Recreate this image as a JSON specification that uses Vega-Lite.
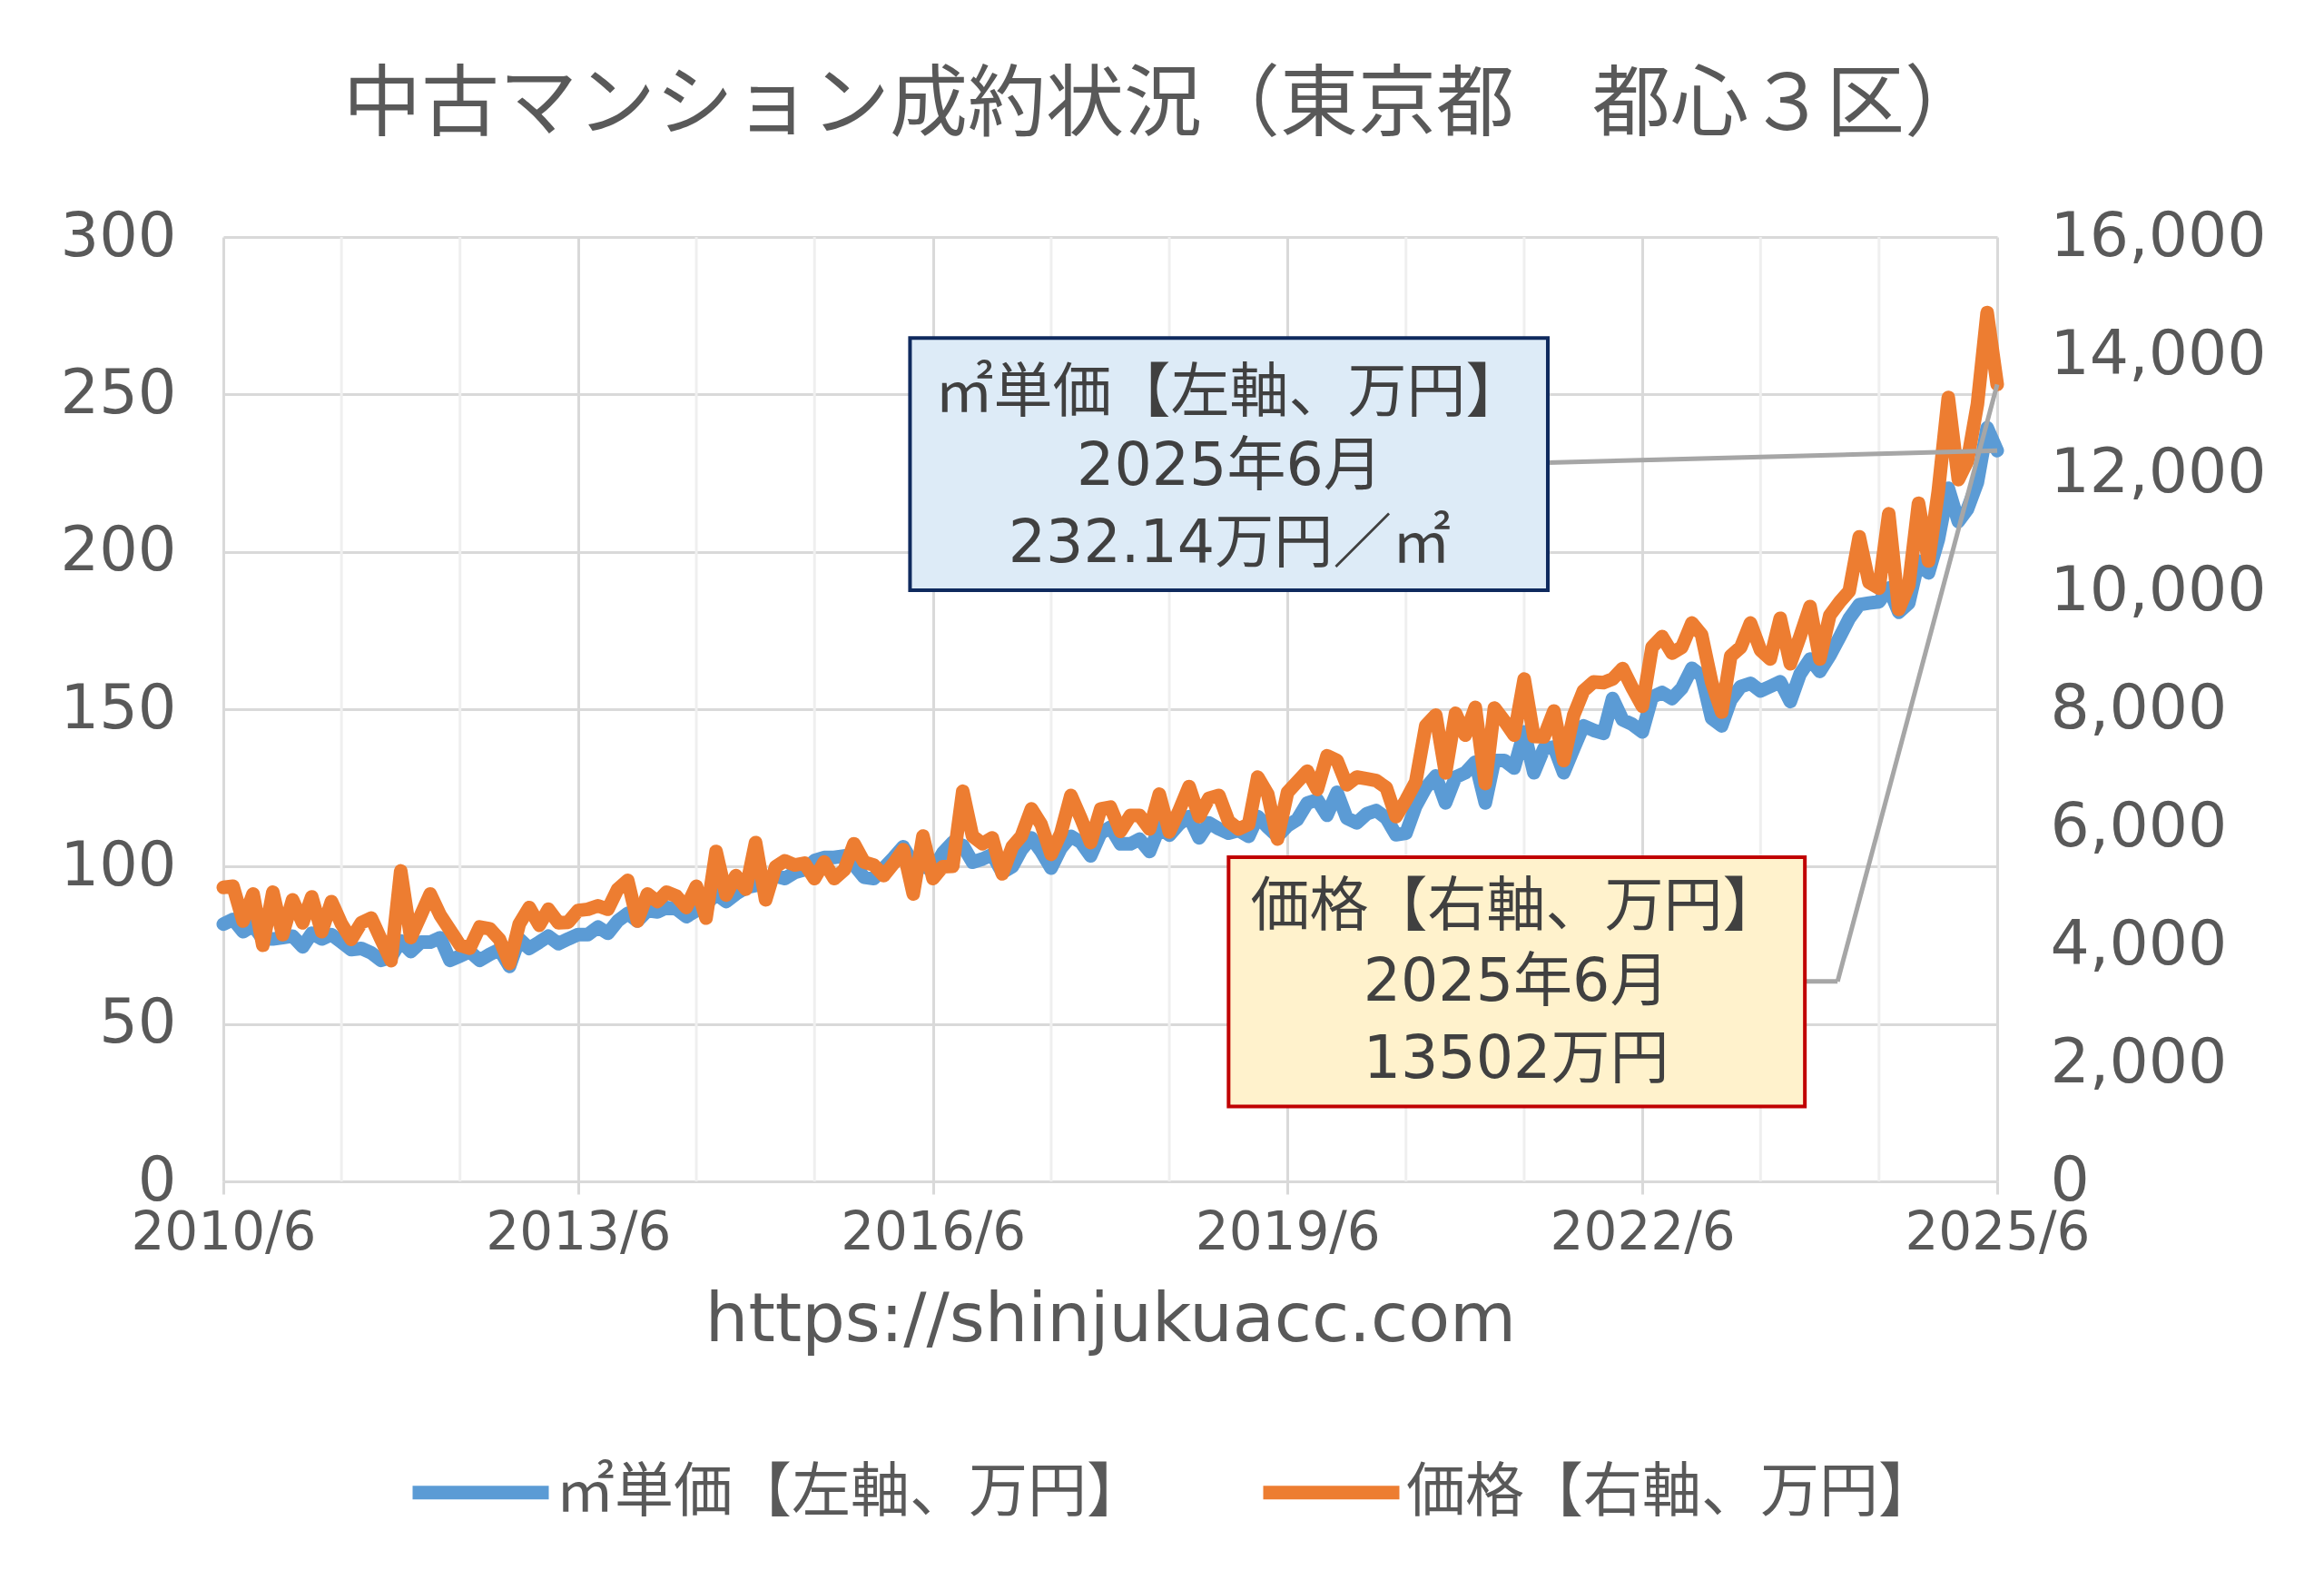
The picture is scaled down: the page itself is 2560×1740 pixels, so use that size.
{
  "$schema": "https://vega.github.io/schema/vega-lite/v6.json",
  "autosize": {"type": "none"},
  "width": 1954,
  "height": 1040,
  "padding": {"left": 246, "top": 261, "right": 360, "bottom": 439},
  "background": "white",
  "title": {
    "text": "中古マンション成約状況（東京都　都心３区）",
    "font": "Noto Sans CJK JP",
    "fontSize": 86,
    "fontWeight": "normal",
    "color": "#595959",
    "anchor": "middle",
    "frame": "bounds",
    "offset": 66
  },
  "config": {
    "view": {"stroke": null},
    "axis": {"labelFont": "DejaVu Sans", "labelColor": "#595959", "labelLimit": 0}
  },
  "resolve": {"scale": {"y": "independent"}, "axis": {"y": "independent"}},
  "encoding": {
    "x": {
      "field": "date",
      "type": "temporal",
      "scale": {"domain": [{"year": 2010, "month": 6, "date": 1}, {"year": 2025, "month": 6, "date": 1}]},
      "axis": {
        "values": [
          {"year": 2010, "month": 6, "date": 1},
          {"year": 2013, "month": 6, "date": 1},
          {"year": 2016, "month": 6, "date": 1},
          {"year": 2019, "month": 6, "date": 1},
          {"year": 2022, "month": 6, "date": 1},
          {"year": 2025, "month": 6, "date": 1}
        ],
        "format": "%Y/%-m",
        "labelFontSize": 58,
        "labelPadding": 14,
        "labelFlush": false,
        "labelOverlap": false,
        "labelLimit": 0,
        "domain": false,
        "grid": true,
        "gridColor": "#d9d9d9",
        "gridWidth": 3,
        "ticks": true,
        "tickColor": "#d9d9d9",
        "tickWidth": 3,
        "tickSize": 14,
        "title": "https://shinjukuacc.com",
        "titleFont": "DejaVu Sans",
        "titleFontSize": 75,
        "titleFontWeight": "normal",
        "titleColor": "#595959",
        "titlePadding": 30
      }
    }
  },
  "layer": [
    {
      "data": {
        "values": [
          {"date": "2011/06/01"}, {"date": "2012/06/01"}, {"date": "2014/06/01"}, {"date": "2015/06/01"},
          {"date": "2017/06/01"}, {"date": "2018/06/01"}, {"date": "2020/06/01"}, {"date": "2021/06/01"},
          {"date": "2023/06/01"}, {"date": "2024/06/01"}
        ],
        "format": {"parse": {"date": "date"}}
      },
      "mark": {"type": "rule", "color": "#efefef", "strokeWidth": 3},
      "encoding": {}
    },
    {
      "data": {"name": "series"},
      "mark": {"type": "line", "strokeWidth": 15, "strokeCap": "round", "strokeJoin": "round"},
      "encoding": {
        "y": {
          "field": "unit",
          "type": "quantitative",
          "scale": {"domain": [0, 300]},
          "axis": {
            "orient": "left",
            "values": [0, 50, 100, 150, 200, 250, 300],
            "grid": true,
            "gridColor": "#d9d9d9",
            "gridWidth": 3,
            "domain": false,
            "ticks": false,
            "labelFontSize": 67,
            "labelPadding": 52,
            "labelLimit": 0,
            "title": null
          }
        },
        "color": {
          "datum": "㎡単価【左軸、万円】",
          "type": "nominal",
          "scale": {"domain": ["㎡単価【左軸、万円】", "価格【右軸、万円】"], "range": ["#5B9BD5", "#ED7D31"]},
          "legend": {
            "orient": "none",
            "legendX": 201,
            "legendY": 1300,
            "direction": "horizontal",
            "title": null,
            "symbolType": "stroke",
            "symbolSize": 22500,
            "symbolStrokeWidth": 15,
            "labelFont": "Noto Sans CJK JP",
            "labelFontSize": 65,
            "labelColor": "#595959",
            "labelLimit": 0,
            "labelOffset": 0,
            "columnPadding": 98
          }
        }
      }
    },
    {
      "data": {"name": "series"},
      "mark": {"type": "line", "strokeWidth": 15, "strokeCap": "round", "strokeJoin": "round"},
      "encoding": {
        "y": {
          "field": "price",
          "type": "quantitative",
          "scale": {"domain": [0, 16000]},
          "axis": {
            "orient": "right",
            "values": [0, 2000, 4000, 6000, 8000, 10000, 12000, 14000, 16000],
            "format": ",d",
            "grid": false,
            "domain": false,
            "ticks": false,
            "labelFontSize": 68,
            "labelPadding": 58,
            "labelLimit": 0,
            "title": null
          }
        },
        "color": {"datum": "価格【右軸、万円】", "type": "nominal"}
      }
    },
    {
      "encoding": {
        "y": {"field": "v", "type": "quantitative", "scale": {"domain": [0, 300]}, "axis": null}
      },
      "layer": [
        {
          "data": {
            "values": [
              {"date": "2021/08/13", "date2": "2025/06/01", "v": 228.3, "v2": 232.14},
              {"date": "2023/10/16", "date2": "2024/01/25", "v": 63.5, "v2": 63.5},
              {"date": "2024/01/25", "date2": "2025/06/01", "v": 63.5, "v2": 253.16}
            ],
            "format": {"parse": {"date": "date", "date2": "date"}}
          },
          "mark": {"type": "rule", "color": "#a6a6a6", "strokeWidth": 5},
          "encoding": {"x2": {"field": "date2"}, "y2": {"field": "v2"}}
        },
        {
          "data": {
            "values": [{"date": "2016/03/22", "date2": "2021/08/13", "v": 267.9, "v2": 187.8}],
            "format": {"parse": {"date": "date", "date2": "date"}}
          },
          "mark": {"type": "rect", "fill": "#ddebf7", "stroke": "#0f2a5e", "strokeWidth": 4},
          "encoding": {"x2": {"field": "date2"}, "y2": {"field": "v2"}}
        },
        {
          "data": {
            "values": [{"date": "2018/12/01", "date2": "2023/10/16", "v": 103.0, "v2": 23.8}],
            "format": {"parse": {"date": "date", "date2": "date"}}
          },
          "mark": {"type": "rect", "fill": "#fff2cc", "stroke": "#c00000", "strokeWidth": 4},
          "encoding": {"x2": {"field": "date2"}, "y2": {"field": "v2"}}
        },
        {
          "data": {
            "values": [
              {"date": "2018/12/04", "v": 250.5, "label": "㎡単価【左軸、万円】"},
              {"date": "2018/12/04", "v": 226.9, "label": "2025年6月"},
              {"date": "2018/12/04", "v": 202.4, "label": "232.14万円／㎡"},
              {"date": "2021/05/07", "v": 87.1, "label": "価格【右軸、万円】"},
              {"date": "2021/05/07", "v": 63.1, "label": "2025年6月"},
              {"date": "2021/05/07", "v": 38.6, "label": "13502万円"}
            ],
            "format": {"parse": {"date": "date"}}
          },
          "mark": {"type": "text", "font": "DejaVu Sans, Noto Sans CJK JP", "fontSize": 65, "color": "#404040", "align": "center", "baseline": "middle"},
          "encoding": {"text": {"field": "label"}}
        }
      ]
    }
  ],
  "datasets": {
    "series": [
      {"date": "2010/06/01", "unit": 81.7, "price": 4980},
      {"date": "2010/07/01", "unit": 83.2, "price": 5000},
      {"date": "2010/08/01", "unit": 79.3, "price": 4410},
      {"date": "2010/09/01", "unit": 81.3, "price": 4870},
      {"date": "2010/10/01", "unit": 77.0, "price": 4000},
      {"date": "2010/11/01", "unit": 77.0, "price": 4900},
      {"date": "2010/12/01", "unit": 77.4, "price": 4180},
      {"date": "2011/01/01", "unit": 77.9, "price": 4770},
      {"date": "2011/02/01", "unit": 74.5, "price": 4380},
      {"date": "2011/03/01", "unit": 78.8, "price": 4820},
      {"date": "2011/04/01", "unit": 77.0, "price": 4230},
      {"date": "2011/05/01", "unit": 78.4, "price": 4740},
      {"date": "2011/06/01", "unit": 76.0, "price": 4360},
      {"date": "2011/07/01", "unit": 73.6, "price": 4100},
      {"date": "2011/08/01", "unit": 74.0, "price": 4380},
      {"date": "2011/09/01", "unit": 72.6, "price": 4460},
      {"date": "2011/10/01", "unit": 70.2, "price": 4100},
      {"date": "2011/11/01", "unit": 71.2, "price": 3740},
      {"date": "2011/12/01", "unit": 76.4, "price": 5260},
      {"date": "2012/01/01", "unit": 73.0, "price": 4130},
      {"date": "2012/02/01", "unit": 76.0, "price": 4510},
      {"date": "2012/03/01", "unit": 76.0, "price": 4870},
      {"date": "2012/04/01", "unit": 77.4, "price": 4510},
      {"date": "2012/05/01", "unit": 70.2, "price": 4260},
      {"date": "2012/06/01", "unit": 71.6, "price": 4000},
      {"date": "2012/07/01", "unit": 73.0, "price": 3950},
      {"date": "2012/08/01", "unit": 70.2, "price": 4310},
      {"date": "2012/09/01", "unit": 72.1, "price": 4280},
      {"date": "2012/10/01", "unit": 73.6, "price": 4100},
      {"date": "2012/11/01", "unit": 68.3, "price": 3690},
      {"date": "2012/12/01", "unit": 77.0, "price": 4360},
      {"date": "2013/01/01", "unit": 74.0, "price": 4640},
      {"date": "2013/02/01", "unit": 76.0, "price": 4340},
      {"date": "2013/03/01", "unit": 77.9, "price": 4610},
      {"date": "2013/04/01", "unit": 75.5, "price": 4380},
      {"date": "2013/05/01", "unit": 77.0, "price": 4390},
      {"date": "2013/06/01", "unit": 78.4, "price": 4590},
      {"date": "2013/07/01", "unit": 78.4, "price": 4610},
      {"date": "2013/08/01", "unit": 80.8, "price": 4670},
      {"date": "2013/09/01", "unit": 78.8, "price": 4610},
      {"date": "2013/10/01", "unit": 82.7, "price": 4950},
      {"date": "2013/11/01", "unit": 85.1, "price": 5100},
      {"date": "2013/12/01", "unit": 82.7, "price": 4410},
      {"date": "2014/01/01", "unit": 86.0, "price": 4870},
      {"date": "2014/02/01", "unit": 85.6, "price": 4740},
      {"date": "2014/03/01", "unit": 87.0, "price": 4900},
      {"date": "2014/04/01", "unit": 86.5, "price": 4830},
      {"date": "2014/05/01", "unit": 84.1, "price": 4640},
      {"date": "2014/06/01", "unit": 86.0, "price": 5000},
      {"date": "2014/07/01", "unit": 88.0, "price": 4460},
      {"date": "2014/08/01", "unit": 91.3, "price": 5590},
      {"date": "2014/09/01", "unit": 88.9, "price": 4850},
      {"date": "2014/10/01", "unit": 91.3, "price": 5180},
      {"date": "2014/11/01", "unit": 93.3, "price": 4950},
      {"date": "2014/12/01", "unit": 94.0, "price": 5740},
      {"date": "2015/01/01", "unit": 95.0, "price": 4770},
      {"date": "2015/02/01", "unit": 97.0, "price": 5330},
      {"date": "2015/03/01", "unit": 96.2, "price": 5430},
      {"date": "2015/04/01", "unit": 98.1, "price": 5360},
      {"date": "2015/05/01", "unit": 99.0, "price": 5390},
      {"date": "2015/06/01", "unit": 101.9, "price": 5130},
      {"date": "2015/07/01", "unit": 102.9, "price": 5410},
      {"date": "2015/08/01", "unit": 102.9, "price": 5130},
      {"date": "2015/09/01", "unit": 103.4, "price": 5280},
      {"date": "2015/10/01", "unit": 100.5, "price": 5720},
      {"date": "2015/11/01", "unit": 96.6, "price": 5410},
      {"date": "2015/12/01", "unit": 96.2, "price": 5360},
      {"date": "2016/01/01", "unit": 99.5, "price": 5180},
      {"date": "2016/02/01", "unit": 102.9, "price": 5390},
      {"date": "2016/03/01", "unit": 106.3, "price": 5620},
      {"date": "2016/04/01", "unit": 101.0, "price": 4870},
      {"date": "2016/05/01", "unit": 100.0, "price": 5850},
      {"date": "2016/06/01", "unit": 99.0, "price": 5130},
      {"date": "2016/07/01", "unit": 104.3, "price": 5330},
      {"date": "2016/08/01", "unit": 107.7, "price": 5340},
      {"date": "2016/09/01", "unit": 106.7, "price": 6610},
      {"date": "2016/10/01", "unit": 101.4, "price": 5850},
      {"date": "2016/11/01", "unit": 102.4, "price": 5720},
      {"date": "2016/12/01", "unit": 103.8, "price": 5820},
      {"date": "2017/01/01", "unit": 98.1, "price": 5210},
      {"date": "2017/02/01", "unit": 100.0, "price": 5670},
      {"date": "2017/03/01", "unit": 105.3, "price": 5850},
      {"date": "2017/04/01", "unit": 109.1, "price": 6310},
      {"date": "2017/05/01", "unit": 104.8, "price": 6050},
      {"date": "2017/06/01", "unit": 99.5, "price": 5540},
      {"date": "2017/07/01", "unit": 105.8, "price": 5900},
      {"date": "2017/08/01", "unit": 109.6, "price": 6540},
      {"date": "2017/09/01", "unit": 107.7, "price": 6150},
      {"date": "2017/10/01", "unit": 103.4, "price": 5740},
      {"date": "2017/11/01", "unit": 110.6, "price": 6310},
      {"date": "2017/12/01", "unit": 112.5, "price": 6340},
      {"date": "2018/01/01", "unit": 107.2, "price": 5930},
      {"date": "2018/02/01", "unit": 107.2, "price": 6200},
      {"date": "2018/03/01", "unit": 108.7, "price": 6200},
      {"date": "2018/04/01", "unit": 104.8, "price": 5970},
      {"date": "2018/05/01", "unit": 112.5, "price": 6560},
      {"date": "2018/06/01", "unit": 110.0, "price": 5920},
      {"date": "2018/07/01", "unit": 113.5, "price": 6280},
      {"date": "2018/08/01", "unit": 115.9, "price": 6690},
      {"date": "2018/09/01", "unit": 109.1, "price": 6180},
      {"date": "2018/10/01", "unit": 113.9, "price": 6490},
      {"date": "2018/11/01", "unit": 112.0, "price": 6540},
      {"date": "2018/12/01", "unit": 110.6, "price": 6100},
      {"date": "2019/01/01", "unit": 111.5, "price": 5970},
      {"date": "2019/02/01", "unit": 109.6, "price": 6050},
      {"date": "2019/03/01", "unit": 115.9, "price": 6850},
      {"date": "2019/04/01", "unit": 112.5, "price": 6560},
      {"date": "2019/05/01", "unit": 109.6, "price": 5800},
      {"date": "2019/06/01", "unit": 113.0, "price": 6590},
      {"date": "2019/07/01", "unit": 114.9, "price": 6770},
      {"date": "2019/08/01", "unit": 120.2, "price": 6950},
      {"date": "2019/09/01", "unit": 121.2, "price": 6640},
      {"date": "2019/10/01", "unit": 116.3, "price": 7210},
      {"date": "2019/11/01", "unit": 123.6, "price": 7130},
      {"date": "2019/12/01", "unit": 115.4, "price": 6720},
      {"date": "2020/01/01", "unit": 113.9, "price": 6850},
      {"date": "2020/02/01", "unit": 116.8, "price": 6820},
      {"date": "2020/03/01", "unit": 117.8, "price": 6790},
      {"date": "2020/04/01", "unit": 115.4, "price": 6670},
      {"date": "2020/05/01", "unit": 110.1, "price": 6180},
      {"date": "2020/06/01", "unit": 110.6, "price": 6460},
      {"date": "2020/07/01", "unit": 119.2, "price": 6770},
      {"date": "2020/08/01", "unit": 125.0, "price": 7720},
      {"date": "2020/09/01", "unit": 128.8, "price": 7900},
      {"date": "2020/10/01", "unit": 120.2, "price": 6920},
      {"date": "2020/11/01", "unit": 128.4, "price": 7930},
      {"date": "2020/12/01", "unit": 129.8, "price": 7560},
      {"date": "2021/01/01", "unit": 133.2, "price": 8030},
      {"date": "2021/02/01", "unit": 120.2, "price": 6740},
      {"date": "2021/03/01", "unit": 133.7, "price": 8020},
      {"date": "2021/04/01", "unit": 133.7, "price": 7800},
      {"date": "2021/05/01", "unit": 131.3, "price": 7560},
      {"date": "2021/06/01", "unit": 142.8, "price": 8510},
      {"date": "2021/07/01", "unit": 129.8, "price": 7540},
      {"date": "2021/08/01", "unit": 137.5, "price": 7530},
      {"date": "2021/09/01", "unit": 138.0, "price": 7970},
      {"date": "2021/10/01", "unit": 129.8, "price": 7130},
      {"date": "2021/11/01", "unit": 137.5, "price": 7900},
      {"date": "2021/12/01", "unit": 144.7, "price": 8310},
      {"date": "2022/01/01", "unit": 143.3, "price": 8460},
      {"date": "2022/02/01", "unit": 142.3, "price": 8450},
      {"date": "2022/03/01", "unit": 153.4, "price": 8510},
      {"date": "2022/04/01", "unit": 146.6, "price": 8690},
      {"date": "2022/05/01", "unit": 145.2, "price": 8360},
      {"date": "2022/06/01", "unit": 142.8, "price": 8050},
      {"date": "2022/07/01", "unit": 153.8, "price": 9050},
      {"date": "2022/08/01", "unit": 155.3, "price": 9230},
      {"date": "2022/09/01", "unit": 153.4, "price": 8950},
      {"date": "2022/10/01", "unit": 156.7, "price": 9050},
      {"date": "2022/11/01", "unit": 163.0, "price": 9460},
      {"date": "2022/12/01", "unit": 160.6, "price": 9260},
      {"date": "2023/01/01", "unit": 147.1, "price": 8460},
      {"date": "2023/02/01", "unit": 144.7, "price": 7950},
      {"date": "2023/03/01", "unit": 152.9, "price": 8900},
      {"date": "2023/04/01", "unit": 157.2, "price": 9050},
      {"date": "2023/05/01", "unit": 158.2, "price": 9460},
      {"date": "2023/06/01", "unit": 155.8, "price": 9000},
      {"date": "2023/07/01", "unit": 157.2, "price": 8850},
      {"date": "2023/08/01", "unit": 158.7, "price": 9540},
      {"date": "2023/09/01", "unit": 152.4, "price": 8770},
      {"date": "2023/10/01", "unit": 161.1, "price": 9230},
      {"date": "2023/11/01", "unit": 165.9, "price": 9740},
      {"date": "2023/12/01", "unit": 162.0, "price": 8850},
      {"date": "2024/01/01", "unit": 167.0, "price": 9590},
      {"date": "2024/02/01", "unit": 173.0, "price": 9820},
      {"date": "2024/03/01", "unit": 178.8, "price": 10000},
      {"date": "2024/04/01", "unit": 183.2, "price": 10920},
      {"date": "2024/05/01", "unit": 183.7, "price": 10150},
      {"date": "2024/06/01", "unit": 184.1, "price": 10050},
      {"date": "2024/07/01", "unit": 188.5, "price": 11310},
      {"date": "2024/08/01", "unit": 180.8, "price": 9690},
      {"date": "2024/09/01", "unit": 183.7, "price": 10100},
      {"date": "2024/10/01", "unit": 197.1, "price": 11490},
      {"date": "2024/11/01", "unit": 193.3, "price": 10510},
      {"date": "2024/12/01", "unit": 203.8, "price": 11690},
      {"date": "2025/01/01", "unit": 220.2, "price": 13280},
      {"date": "2025/02/01", "unit": 209.6, "price": 11890},
      {"date": "2025/03/01", "unit": 213.5, "price": 12200},
      {"date": "2025/04/01", "unit": 222.1, "price": 13170},
      {"date": "2025/05/01", "unit": 239.4, "price": 14720},
      {"date": "2025/06/01", "unit": 232.14, "price": 13502}
    ]
  }
}
